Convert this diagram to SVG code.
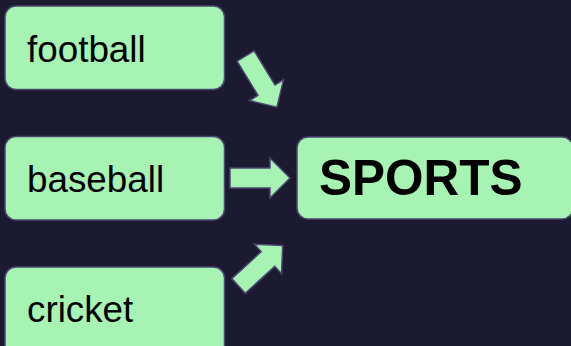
<svg xmlns="http://www.w3.org/2000/svg" width="571" height="346" viewBox="0 0 571 346">
<style>
.box{fill:#a7f3b3;stroke:#4a4770;stroke-width:1.5}
.lbl{font-family:"Liberation Sans",Arial,sans-serif;font-size:36.8px;fill:#000}
.big{font-family:"Liberation Sans",Arial,sans-serif;font-size:49.5px;font-weight:bold;fill:#000}
.arr{fill:#a7f3b3;stroke:#4a4770;stroke-width:1.5;stroke-linejoin:miter}
</style>
<defs>
<path id="arrow" d="M0,-10 L40,-10 L40,-20 L60,0 L40,20 L40,10 L0,10 Z"/>
</defs>
<rect width="571" height="346" fill="#1c1a30"/>
<g id="football"><rect class="box" x="5" y="6" width="219.5" height="83.5" rx="11"/><text class="lbl" x="27" y="62">football</text></g>
<g id="baseball"><rect class="box" x="5" y="136.5" width="219.5" height="83.5" rx="11"/><text class="lbl" x="27" y="192">baseball</text></g>
<g id="cricket"><rect class="box" x="5" y="267" width="219.5" height="90" rx="11"/><text class="lbl" x="27" y="322">cricket</text></g>
<g id="sports"><rect class="box" x="297" y="137" width="276" height="82" rx="11"/><text class="big" x="319" y="195">SPORTS</text></g>
<g id="connectors">
<use href="#arrow" class="arr" transform="translate(245.6,56) rotate(58.5)"/>
<use href="#arrow" class="arr" transform="translate(230,178)"/>
<use href="#arrow" class="arr" transform="translate(238.5,286) rotate(-42.5)"/>
</g>
</svg>
